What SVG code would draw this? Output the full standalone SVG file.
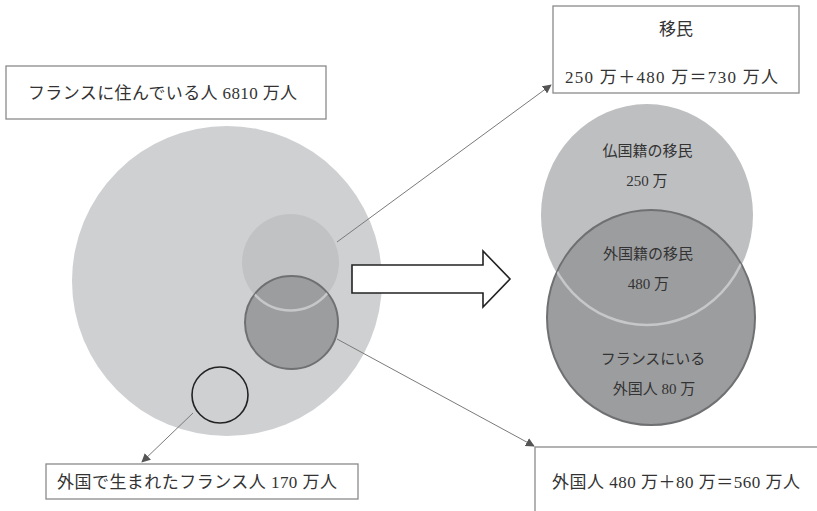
<svg xmlns="http://www.w3.org/2000/svg" width="817" height="511" viewBox="0 0 817 511">
<style>
text{font-family:"Liberation Serif","Noto Sans CJK JP",serif;fill:#333;font-size:17px;text-anchor:middle;dominant-baseline:central}
.v{font-size:15px}
.box{fill:#fff;stroke:#8a8a8a;stroke-width:1.3}
.conn{stroke:#7a7a7a;stroke-width:1;fill:none}
</style>
<defs>
<marker id="ah" viewBox="0 0 10 10" refX="9" refY="5" markerWidth="9" markerHeight="9" markerUnits="userSpaceOnUse" orient="auto">
<path d="M0,0 L10,5 L0,10 z" fill="#555"/>
</marker>
<clipPath id="clipL"><circle cx="291.5" cy="322.5" r="46"/></clipPath>
<clipPath id="clipR"><ellipse cx="651" cy="317.5" rx="103.5" ry="107"/></clipPath>
</defs>
<rect width="817" height="511" fill="#fff"/>
<g id="residents">
<circle cx="227" cy="281" r="155" fill="#cfd0d2"/>
</g>
<g id="immigrants-small">
<circle cx="290.5" cy="262.5" r="48.5" fill="#c1c2c4"/>
</g>
<g id="foreigners-small">
<circle cx="291.5" cy="322.5" r="46.5" fill="#9c9d9f" stroke="#6f7072" stroke-width="2"/>
<circle cx="290.5" cy="262.5" r="48" fill="none" stroke="#c6c7c9" stroke-width="2.5" clip-path="url(#clipL)"/>
</g>
<g id="born-abroad">
<circle cx="220" cy="395" r="28" fill="none" stroke="#222" stroke-width="1.6"/>
</g>
<g id="block-arrow">
<path d="M352,265 H483 V251 L510,279 L483,307 V293 H352 Z" fill="#fff" stroke="#222" stroke-width="1.6"/>
</g>
<g id="venn-right">
<ellipse cx="647" cy="215" rx="106" ry="111" fill="#bebfc1"/>
<ellipse cx="651" cy="317.5" rx="104" ry="107.5" fill="#9c9d9f" stroke="#6f7072" stroke-width="2"/>
<ellipse cx="647" cy="215" rx="105" ry="110" fill="none" stroke="#c6c7c9" stroke-width="2.5" clip-path="url(#clipR)"/>
<text class="v" x="647.5" y="151">仏国籍の移民</text>
<text class="v" x="647" y="181">250 万</text>
<text class="v" x="648" y="254">外国籍の移民</text>
<text class="v" x="648.5" y="284">480 万</text>
<text class="v" x="653" y="359">フランスにいる</text>
<text class="v" x="654" y="389">外国人 80 万</text>
</g>
<g id="connectors">
<line class="conn" x1="337" y1="242" x2="551" y2="85" marker-end="url(#ah)"/>
<line class="conn" x1="337" y1="339" x2="534" y2="446" marker-end="url(#ah)"/>
<line class="conn" x1="193" y1="413" x2="142" y2="462" marker-end="url(#ah)"/>
</g>
<g id="label-residents">
<rect class="box" x="6" y="66" width="320" height="53"/>
<text x="162.5" y="93" textLength="269" lengthAdjust="spacing">フランスに住んでいる人 6810 万人</text>
</g>
<g id="label-immigrants">
<rect class="box" x="553" y="6" width="246" height="87"/>
<text x="676" y="29">移民</text>
<text x="671.5" y="77" textLength="213" lengthAdjust="spacing">250 万＋480 万＝730 万人</text>
</g>
<g id="label-foreigners">
<rect class="box" x="535" y="447" width="300" height="80"/>
<text x="676" y="482" textLength="248" lengthAdjust="spacing">外国人 480 万＋80 万＝560 万人</text>
</g>
<g id="label-born-abroad">
<rect class="box" x="46" y="464" width="312" height="35"/>
<text x="197" y="482" textLength="280" lengthAdjust="spacing">外国で生まれたフランス人 170 万人</text>
</g>
</svg>
